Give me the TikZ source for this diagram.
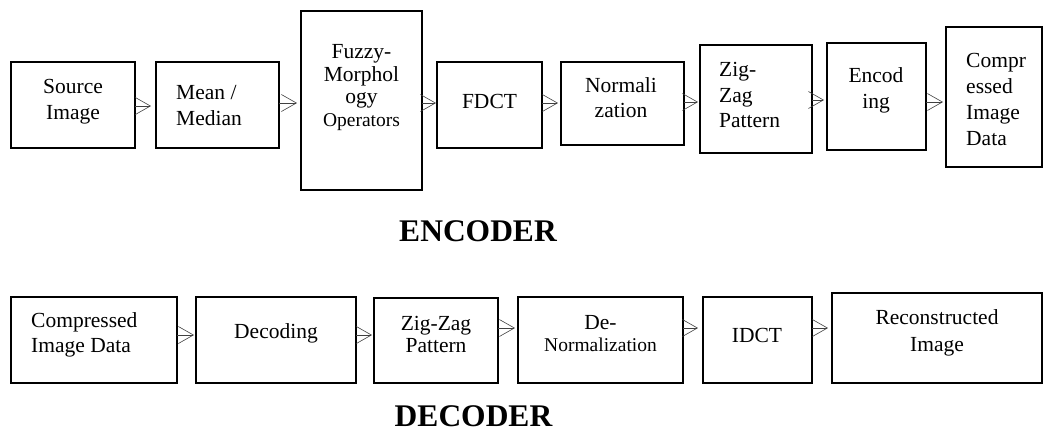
\documentclass[tikz,border=0pt]{standalone}
\usepackage{fontspec}
\setmainfont{Liberation Serif}
\usetikzlibrary{arrows.meta}
\begin{document}
\begin{tikzpicture}[x=1pt,y=-1pt,
  box/.style={draw=black, line width=1.8pt, inner sep=0pt, outer sep=0pt, rectangle},
  txt/.style={inner sep=0pt, font=\fontsize{21.5}{26}\selectfont},
  title/.style={inner sep=0pt, font=\fontsize{31.5}{34}\selectfont\bfseries},
  arr/.style={draw=black!75, line width=0.6pt, -{Straight Barb[length=15pt,width=17pt]}}]
\useasboundingbox (0,0) rectangle (1043,432);
% ---------- encoder boxes ----------
\node[box, minimum width=124pt, minimum height=86pt] (src) at (73,105) {};
\node[box, minimum width=123pt, minimum height=86pt] (mean) at (217.5,105) {};
\node[box, minimum width=121pt, minimum height=179pt] (fuzzy) at (361.5,100.5) {};
\node[box, minimum width=105pt, minimum height=86pt] (fdct) at (489.5,105) {};
\node[box, minimum width=123pt, minimum height=83pt] (norm) at (622.5,103.5) {};
\node[box, minimum width=112pt, minimum height=108pt] (zig) at (756,99) {};
\node[box, minimum width=99pt, minimum height=107pt] (enc) at (876.5,96.5) {};
\node[box, minimum width=96pt, minimum height=140pt] (comp) at (994,97) {};
% ---------- encoder texts ----------
\node[txt, align=center] (srcT) at (73,102) {Source\\Image};
\node[txt, align=left, anchor=west] (meanT) at (176,106) {Mean /\\Median};
\node[txt, align=center, font=\fontsize{21.5}{22.5}\selectfont] (fuzzyT) at (361.5,87.5) {Fuzzy-\\Morphol\\ogy\\{\fontsize{19.5}{22}\selectfont Operators}};
\node[txt] (fdctT) at (489.5,101.5) {FDCT};
\node[txt, align=center, font=\fontsize{21.5}{25}\selectfont] (normT) at (621,98) {Normali\\zation};
\node[txt, align=left, anchor=west, font=\fontsize{21.5}{25.5}\selectfont] (zigT) at (719,95) {Zig-\\Zag\\Pattern};
\node[txt, align=center] (encT) at (876,90) {Encod\\ing};
\node[txt, align=left, anchor=west] (compT) at (966,99.5) {Compr\\essed\\Image\\Data};
% ---------- encoder arrows ----------
\draw[arr, shorten >=5pt] (src.east |- 0,106) -- (mean.west |- 0,106);
\draw[arr, shorten >=4pt] (mean.east |- 0,103) -- (fuzzy.west |- 0,103);
\draw[arr, shorten >=1pt] (fuzzy.east |- 0,103) -- (fdct.west |- 0,103);
\draw[arr, shorten >=3pt] (fdct.east |- 0,103) -- (norm.west |- 0,103);
\draw[arr, shorten >=2pt] (norm.east |- 0,102) -- (zig.west |- 0,102);
\draw[arr, shorten >=3pt] (zig.east |- 0,100) -- (enc.west |- 0,100);
\draw[arr, shorten >=3pt] (enc.east |- 0,102) -- (comp.west |- 0,102);
\node[title] (encoder) at (478,231) {ENCODER};
% ---------- decoder boxes ----------
\node[box, minimum width=166pt, minimum height=86pt] (cid) at (94,340) {};
\node[box, minimum width=160pt, minimum height=86pt] (dec) at (276,340) {};
\node[box, minimum width=124pt, minimum height=85pt] (zz) at (436,340.5) {};
\node[box, minimum width=165pt, minimum height=86pt] (dn) at (600.5,340) {};
\node[box, minimum width=109pt, minimum height=86pt] (idct) at (757.5,340) {};
\node[box, minimum width=210pt, minimum height=90pt] (rec) at (937,338) {};
% ---------- decoder texts ----------
\node[txt, align=left, anchor=west, font=\fontsize{21.5}{25}\selectfont] (cidT) at (31,334.5) {Compressed\\Image Data};
\node[txt] (decT) at (276,333) {Decoding};
\node[txt, align=center, font=\fontsize{21.5}{22}\selectfont] (zzT) at (436,334) {Zig-Zag\\Pattern};
\node[txt, align=center, font=\fontsize{21.5}{22}\selectfont] (dnT) at (600.5,334) {De-\\{\fontsize{19.5}{22}\selectfont Normalization}};
\node[txt] (idctT) at (757,335.5) {IDCT};
\node[txt, align=center, font=\fontsize{21.5}{27}\selectfont] (recT) at (937,332.5) {Reconstructed\\Image};
% ---------- decoder arrows ----------
\draw[arr, shorten >=2pt] (cid.east |- 0,335) -- (dec.west |- 0,335);
\draw[arr, shorten >=2pt] (dec.east |- 0,335) -- (zz.west |- 0,335);
\draw[arr, shorten >=3pt] (zz.east |- 0,328) -- (dn.west |- 0,328);
\draw[arr, shorten >=5pt] (dn.east |- 0,328) -- (idct.west |- 0,328);
\draw[arr, shorten >=4pt] (idct.east |- 0,328) -- (rec.west |- 0,328);
\node[title] (decoder) at (473.5,416.5) {DECODER};
\end{tikzpicture}
\end{document}
